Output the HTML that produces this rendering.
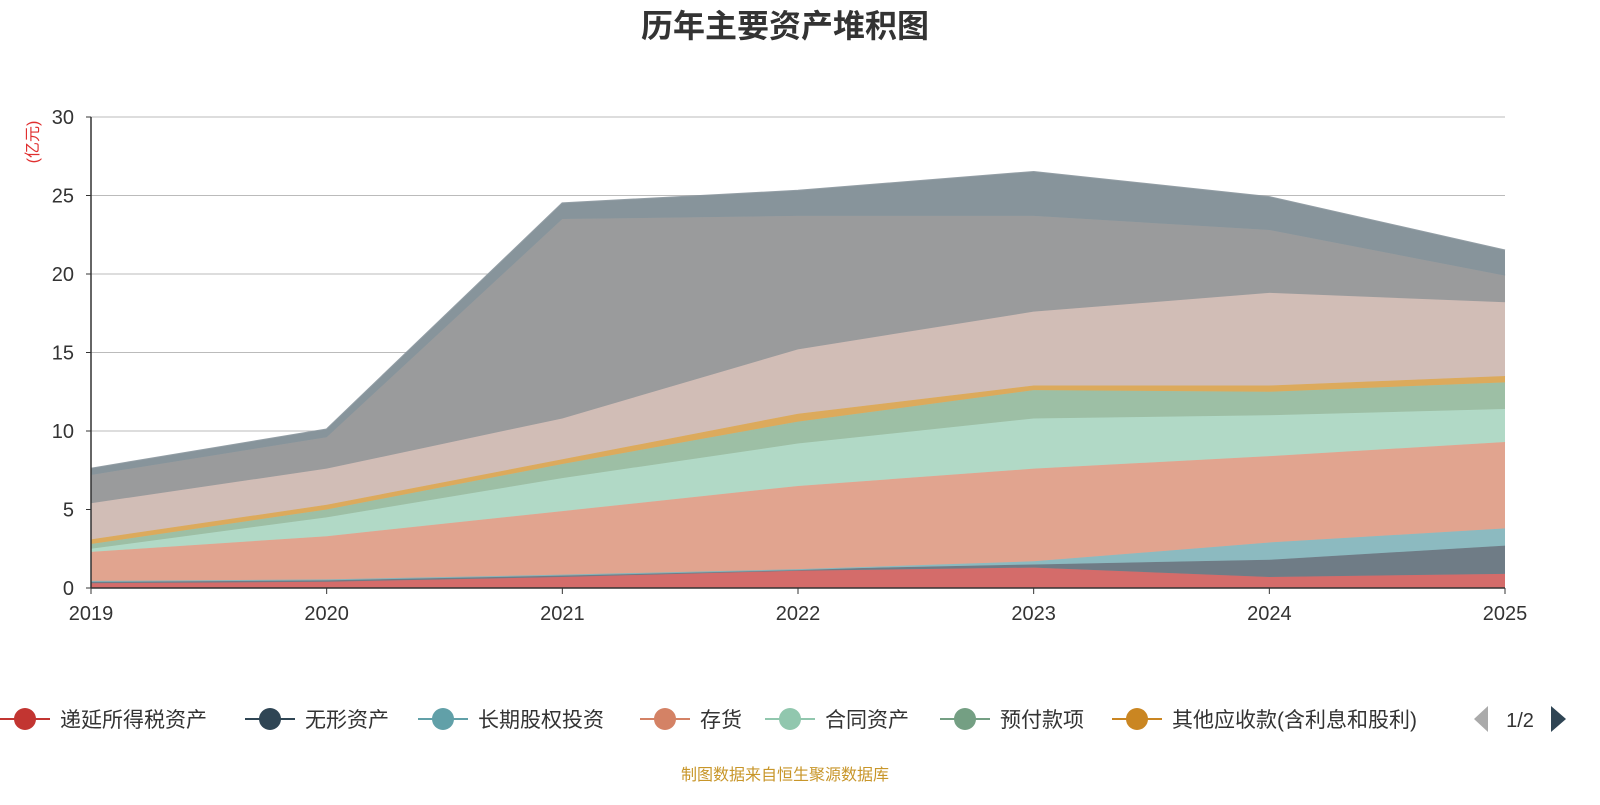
<!DOCTYPE html>
<html><head><meta charset="utf-8">
<style>
body{margin:0;background:#fff;width:1600px;height:800px;overflow:hidden;font-family:"Liberation Sans","Noto Sans CJK SC",sans-serif;}
svg text{font-family:"Liberation Sans","Noto Sans CJK SC",sans-serif;}
</style></head><body>
<svg id="c" width="1600" height="800" xmlns="http://www.w3.org/2000/svg">
<text x="785" y="37" text-anchor="middle" font-size="32" font-weight="bold" fill="#333">历年主要资产堆积图</text>
<text transform="translate(38,142) rotate(-90)" text-anchor="middle" font-size="16" fill="#e03030">(亿元)</text>
<g id="grid"></g><g id="areas"></g><g id="axes"></g><g id="legend"></g>
<text x="785" y="780" text-anchor="middle" font-size="16" fill="#c8962a">制图数据来自恒生聚源数据库</text>
</svg>
<script>
const years=["2019","2020","2021","2022","2023","2024","2025"];
const yTicks=[0,5,10,15,20,25,30];
// cumulative top values per series (stack order bottom→top)
const s_deferredTax=[0.3,0.4,0.7,1.1,1.3,0.7,0.9];
const s_intangible=[0.45,0.55,0.85,1.2,1.5,1.8,2.7];
const s_equityInv=[0.45,0.55,0.85,1.2,1.7,2.9,3.8];
const s_inventory=[2.3,3.3,4.9,6.5,7.6,8.4,9.3];
const s_contract=[2.5,4.5,7.0,9.2,10.8,11.0,11.4];
const s_prepay=[2.8,5.0,7.9,10.6,12.6,12.5,13.1];
const s_otherRecv=[3.1,5.3,8.2,11.1,12.9,12.9,13.5];
const s_receivable=[5.4,7.6,10.8,15.2,17.6,18.8,18.2];
const s_cash=[7.2,9.6,23.5,23.7,23.7,22.8,19.9];
const s_fixed=[7.6,10.1,24.5,25.3,26.5,24.9,21.5];
const series=[
 {n:"deferred-tax",d:s_deferredTax,f:"#d46c6a",l:"#c23531"},
 {n:"intangible",d:s_intangible,f:"#6f7c86",l:"#2f4554"},
 {n:"equity-investment",d:s_equityInv,f:"#8cbac0",l:"#61a0a8"},
 {n:"inventory",d:s_inventory,f:"#e1a48f",l:"#d48265"},
 {n:"contract-assets",d:s_contract,f:"#b1d9c6",l:"#91c7ae"},
 {n:"prepayments",d:s_prepay,f:"#9dbfa5",l:"#749f83"},
 {n:"other-receivables",d:s_otherRecv,f:"#dcaa5c",l:"#ca8622"},
 {n:"receivables",d:s_receivable,f:"#d1bdb6",l:"#bda29a"},
 {n:"cash",d:s_cash,f:"#9a9b9c",l:"#8a8b8c"},
 {n:"fixed-assets",d:s_fixed,f:"#87949b",l:"#79868e"}];
const x0=91,x1=1505,yb=588,yt=117;
const X=i=>x0+(x1-x0)*i/(years.length-1);
const Y=v=>yb-(yb-yt)*v/30;
const NS="http://www.w3.org/2000/svg";
function mk(t,a,p){const e=document.createElementNS(NS,t);for(const k in a)e.setAttribute(k,a[k]);p.appendChild(e);return e;}
const grid=document.getElementById('grid'),axes=document.getElementById('axes'),areas=document.getElementById('areas');
yTicks.forEach(v=>{
 if(v>0){const g=mk('line',{x1:x0,x2:x1,y1:Y(v),y2:Y(v),stroke:'#bbb','stroke-width':1},grid);
 
 }
 const t=mk('text',{x:74,y:Y(v)+7,'text-anchor':'end','font-size':20,fill:'#333'},axes);t.textContent=v;
 
 
});
series.forEach((s,k)=>{
 const prev=k?series[k-1].d:years.map(()=>0);
 let p=s.d.map((v,i)=>X(i)+','+Y(v)).join(' ');
 let q=prev.map((v,i)=>X(i)+','+Y(v)).reverse().join(' ');
 const a=mk('polygon',{points:p+' '+q,fill:s.f},areas);
 
 
 const l=mk('polyline',{points:p,fill:'none',stroke:s.f,'stroke-width':2,'stroke-opacity':0.9},areas);
 
 
});
mk('line',{x1:x0,x2:x0,y1:yt,y2:yb,stroke:'#333','stroke-width':1.5},axes);
mk('line',{x1:x0,x2:x1,y1:yb,y2:yb,stroke:'#333','stroke-width':1.5},axes);
yTicks.forEach(v=>mk('line',{x1:x0-5,x2:x0,y1:Y(v),y2:Y(v),stroke:'#333'},axes));
years.forEach((y,i)=>{
 mk('line',{x1:X(i),x2:X(i),y1:yb,y2:yb+6,stroke:'#333'},axes);
 const t=mk('text',{x:X(i),y:620,'text-anchor':'middle','font-size':20,fill:'#333'},axes);t.textContent=y;
 
 
});
const leg=[["递延所得税资产","#c23531",0],["无形资产","#2f4554",245],["长期股权投资","#61a0a8",418],["存货","#d48265",640],["合同资产","#91c7ae",765],["预付款项","#749f83",940],["其他应收款(含利息和股利)","#ca8622",1112]];
const lg=document.getElementById('legend');
leg.forEach(([n,c,x])=>{
 const g=mk('g',{},lg);
 
 
 mk('line',{x1:x,x2:x+50,y1:719,y2:719,stroke:c,'stroke-width':2},g);
 mk('circle',{cx:x+25,cy:719,r:11,fill:c},g);
 const t=mk('text',{x:x+60,y:727,'font-size':21,fill:'#333'},g);t.textContent=n;
});
const pl=mk('polygon',{points:'1488,706 1488,732 1474,719',fill:'#aaa'},lg);


const pt=mk('text',{x:1520,y:727,'text-anchor':'middle','font-size':20,fill:'#333'},lg);pt.textContent='1/2';


const pn=mk('polygon',{points:'1551,706 1551,732 1566,719',fill:'#2f4554'},lg);


</script>
</body></html>
